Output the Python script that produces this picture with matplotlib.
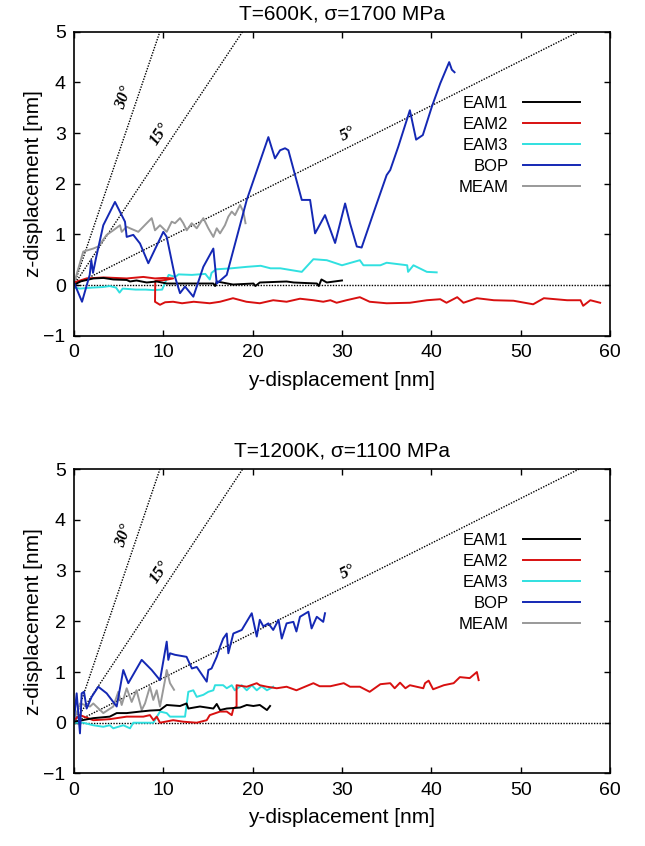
import numpy as np
import matplotlib
matplotlib.use('Agg')
import matplotlib.pyplot as plt

plt.rcParams['font.family'] = ['Liberation Sans', 'DejaVu Sans']

# ---- reference lines (angle label, slope)
ref_labels = ['30°', '15°', '5°']
ref_slopes = [0.52, 0.265, 0.0885]
ref_label_pos = [(5.6, 3.7), (9.6, 2.98), (30.6, 2.98)]

legend_names = ['EAM1', 'EAM2', 'EAM3', 'BOP', 'MEAM']
colors = ['#000000', '#d81010', '#30e0e0', '#1428b4', '#999999']

# ---- T=600K, sigma=1700 MPa
top_eam1_y = [0, 0.7, 2.16, 3.3, 4.4, 5.9, 6.27, 7.0, 8.14, 9.26, 10.38, 11.1, 13.4, 15.6, 15.8, 15.98,
              17.8, 20.1, 20.3, 20.8, 23.8, 24.6, 27.2, 27.4, 27.7, 28.3, 30.0]
top_eam1_z = [0, 0.07, 0.13, 0.14, 0.11, 0.1, 0.07, 0.09, 0.05, 0.07, 0.03, 0.03, 0.03, 0.03, -0.02, 0.07,
              0.01, 0.03, -0.02, 0.05, 0.07, 0.05, 0.03, -0.02, 0.11, 0.05, 0.09]

top_eam2_y = [0, 1.4, 3.3, 5.9, 7.76, 9.07, 10.0, 11.1, 10.2, 9.1, 9.07, 9.63, 10.2, 11.1, 12.1, 13.4,
              15.2, 16.35, 17.8, 19.3, 20.8, 22.3, 23.8, 25.3, 26.8, 27.9, 28.7, 29.4, 30.5, 32.0, 33.1,
              35.0, 37.6, 39.5, 41.0, 41.7, 42.9, 43.6, 45.1, 47.0, 49.2, 51.4, 52.6, 55.2, 56.7, 57.0,
              57.8, 58.9]
top_eam2_z = [0.05, 0.13, 0.15, 0.13, 0.16, 0.13, 0.14, 0.13, 0.1, 0.08, -0.33, -0.39, -0.34, -0.33,
              -0.36, -0.33, -0.36, -0.33, -0.26, -0.33, -0.36, -0.3, -0.33, -0.27, -0.3, -0.33, -0.3,
              -0.35, -0.3, -0.24, -0.33, -0.36, -0.35, -0.3, -0.28, -0.35, -0.24, -0.35, -0.26, -0.3,
              -0.31, -0.38, -0.26, -0.3, -0.3, -0.41, -0.3, -0.35]

top_eam3_y = [0, 0.66, 2.1, 3.2, 4.0, 4.7, 5.1, 5.45, 6.9, 8.0, 8.95, 9.87, 10.2, 10.6, 11.35, 11.7, 13.2,
              14.7, 15.2, 15.4, 15.9, 17.6, 19.4, 20.9, 22.0, 23.1, 25.5, 26.8, 28.3, 30.0, 32.0, 32.4,
              34.3, 35.0, 37.3, 37.4, 38.0, 39.5, 40.6]
top_eam3_z = [-0.05, -0.07, -0.05, -0.04, -0.02, -0.05, -0.15, -0.07, -0.09, -0.09, -0.1, -0.09, 0.05,
              0.2, 0.16, 0.21, 0.2, 0.22, 0.11, 0.24, 0.31, 0.33, 0.36, 0.38, 0.33, 0.33, 0.26, 0.51,
              0.49, 0.39, 0.49, 0.39, 0.39, 0.44, 0.39, 0.26, 0.39, 0.26, 0.25]

top_bop_y = [0, 0.9, 1.76, 1.94, 2.13, 2.5, 3.28, 4.59, 5.71, 5.9, 6.64, 7.39, 8.32, 10.0, 10.38, 11.31,
             11.87, 12.43, 13.36, 14.48, 15.6, 15.98, 17.1, 19.34, 21.76, 22.5, 23.07, 23.63, 24.0, 25.5,
             26.43, 26.99, 28.1, 29.23, 30.35, 30.9, 31.66, 32.2, 33.5, 35.0, 35.4, 36.3, 37.6, 38.3,
             39.05, 40.06, 41.0, 42.0, 42.3, 42.6]
top_bop_z = [0.05, -0.33, 0.2, 0.49, 0.24, 0.56, 1.18, 1.64, 1.25, 0.95, 0.99, 0.82, 0.43, 1.05, 0.95,
             0.16, -0.16, -0.03, -0.23, 0.36, 0.72, 0.03, 0.2, 1.68, 2.92, 2.5, 2.66, 2.7, 2.66, 1.68,
             1.68, 1.02, 1.38, 0.83, 1.61, 1.22, 0.76, 0.74, 1.41, 2.17, 2.27, 2.73, 3.45, 2.87, 2.96,
             3.52, 3.98, 4.4, 4.25, 4.2]

top_meam_y = [0, 1.04, 1.6, 2.16, 2.72, 3.66, 4.4, 5.15, 5.34, 5.9, 6.27, 7.2, 8.14, 8.7, 9.07, 9.63,
              10.38, 10.94, 11.31, 11.87, 12.24, 12.62, 13.18, 13.74, 14.48, 15.04, 15.6, 15.98, 16.35,
              16.9, 17.28, 17.66, 18.03, 18.59, 18.96, 19.2]
top_meam_z = [0.03, 0.66, 0.69, 0.72, 0.76, 0.99, 1.08, 1.18, 1.05, 1.15, 1.12, 1.05, 1.22, 1.32, 1.08,
              1.18, 1.05, 1.25, 1.22, 1.32, 1.22, 1.08, 1.22, 1.12, 1.32, 1.12, 0.95, 1.12, 1.02, 1.18,
              1.35, 1.45, 1.38, 1.58, 1.45, 1.22]

# ---- T=1200K, sigma=1100 MPa
bot_eam1_y = [0, 2.16, 4.0, 4.78, 5.9, 7.4, 8.5, 9.63, 10.38, 11.87, 12.6, 12.8, 14.1, 15.6, 15.98,
              16.35, 17.1, 18.6, 19.34, 20.08, 20.8, 21.6, 21.95]
bot_eam1_z = [0.02, 0.09, 0.12, 0.19, 0.19, 0.22, 0.24, 0.25, 0.35, 0.33, 0.38, 0.28, 0.32, 0.28, 0.37,
              0.25, 0.28, 0.3, 0.35, 0.33, 0.35, 0.25, 0.33]

bot_eam2_y = [0, 0.67, 2.16, 4.0, 5.9, 7.76, 8.5, 8.9, 9.26, 9.63, 11.1, 12.24, 13.74, 14.86, 15.2,
              16.35, 17.1, 17.66, 17.84, 18.2, 18.2, 19.34, 20.46, 20.8, 21.6, 22.7, 23.8, 24.9, 26.8,
              27.5, 28.7, 30.2, 30.9, 32.0, 33.1, 34.3, 35.4, 35.9, 36.5, 37.1, 37.6, 39.1, 39.3, 39.7,
              40.2, 41.4, 42.5, 43.2, 44.3, 45.1, 45.3]
bot_eam2_z = [0.05, 0.15, 0.05, 0.07, 0.12, 0.12, 0.15, 0.05, 0.12, 0.0, 0.05, 0.02, 0.0, 0.05, 0.15,
              0.22, 0.22, 0.15, 0.28, 0.32, 0.74, 0.71, 0.78, 0.74, 0.71, 0.68, 0.71, 0.64, 0.78, 0.72,
              0.72, 0.78, 0.71, 0.71, 0.61, 0.76, 0.78, 0.68, 0.79, 0.68, 0.74, 0.68, 0.78, 0.83, 0.66,
              0.74, 0.78, 0.9, 0.88, 1.0, 0.84]

bot_eam3_y = [0, 1.04, 2.16, 3.28, 4.0, 4.4, 5.52, 6.27, 6.64, 7.76, 8.88, 9.63, 10.38, 10.75, 12.43,
              12.8, 13.36, 13.74, 14.48, 15.04, 15.6, 15.79, 16.7, 17.1, 17.66, 18.0, 18.78, 19.34,
              19.9, 20.46, 21.0, 21.6, 22.3]
bot_eam3_z = [0.0, 0.0, -0.05, -0.08, -0.05, -0.11, -0.05, -0.11, 0.0, 0.0, 0.0, 0.22, 0.19, 0.12,
              0.12, 0.61, 0.64, 0.51, 0.55, 0.61, 0.64, 0.74, 0.74, 0.68, 0.74, 0.64, 0.74, 0.64, 0.74,
              0.64, 0.72, 0.64, 0.71]

bot_bop_y = [0, 0.3, 0.67, 0.86, 1.12, 1.42, 1.98, 2.72, 3.66, 4.78, 5.52, 6.08, 7.58, 8.7, 9.63,
             10.38, 10.56, 10.75, 11.3, 12.6, 13.2, 13.74, 14.86, 15.04, 15.4, 15.98, 16.35, 16.7, 17.1,
             17.28, 17.84, 18.78, 19.9, 20.46, 20.8, 21.2, 21.76, 22.3, 22.9, 23.26, 23.8, 24.56, 24.9,
             25.3, 26.24, 26.6, 27.18, 27.9, 28.1]
bot_bop_z = [0.05, 0.58, -0.21, 0.58, 0.61, 0.28, 0.51, 0.71, 0.58, 0.32, 1.04, 0.78, 1.24, 1.04, 0.84,
             1.6, 1.24, 1.37, 1.34, 1.3, 1.07, 1.1, 0.81, 1.04, 1.07, 1.3, 1.5, 1.66, 1.76, 1.37, 1.76,
             1.83, 2.16, 1.7, 2.03, 1.9, 1.96, 1.83, 2.03, 1.66, 1.96, 1.99, 1.8, 2.09, 2.19, 1.86, 2.09,
             1.99, 2.16]

bot_meam_y = [0, 0.67, 1.8, 2.16, 3.28, 4.4, 4.96, 5.34, 5.9, 6.46, 7.0, 7.58, 7.95, 8.5, 8.88, 9.26,
              9.63, 10.19, 10.38, 10.75, 11.2]
bot_meam_z = [0.05, 0.38, 0.32, 0.38, 0.19, 0.32, 0.61, 0.35, 0.68, 0.41, 0.64, 0.25, 0.38, 0.71, 0.45,
              0.64, 0.32, 0.84, 1.04, 0.78, 0.65]

panels = [
    ('T=600K, σ=1700 MPa',
     [(top_eam1_y, top_eam1_z), (top_eam2_y, top_eam2_z), (top_eam3_y, top_eam3_z),
      (top_bop_y, top_bop_z), (top_meam_y, top_meam_z)]),
    ('T=1200K, σ=1100 MPa',
     [(bot_eam1_y, bot_eam1_z), (bot_eam2_y, bot_eam2_z), (bot_eam3_y, bot_eam3_z),
      (bot_bop_y, bot_bop_z), (bot_meam_y, bot_meam_z)]),
]

fig = plt.figure(figsize=(6.45, 8.46), dpi=100)
ax_rects = [[0.1147, 0.6032, 0.831, 0.3593], [0.1147, 0.0858, 0.831, 0.3595]]

xs = np.array([0, 60])
for rect, (title, series) in zip(ax_rects, panels):
    ax = fig.add_axes(rect)
    ax.set_xlim(0, 60)
    ax.set_ylim(-1, 5)

    # dotted guide lines
    ax.plot(xs, [0, 0], color='black', lw=1.0, ls=(0, (1, 1)))
    for s in ref_slopes:
        ax.plot(xs, s * xs, color='black', lw=1.0, ls=(0, (1, 1)))

    # draw order so blue sits on top like the original
    order = [4, 2, 1, 0, 3]
    handles = {}
    for i in order:
        y, z = series[i]
        h, = ax.plot(y, z, color=colors[i], lw=1.4, label=legend_names[i])
        handles[i] = h

    fig.canvas.draw()
    for lab, s, (tx, tz) in zip(ref_labels, ref_slopes, ref_label_pos):
        ang = ax.transData.transform_angles(np.array([np.degrees(np.arctan(s))]),
                                            np.array([[tx, tz]]))[0]
        ax.text(tx, tz, lab, rotation=ang, rotation_mode='anchor', ha='center', va='center',
                family='Liberation Serif', style='italic', fontweight='bold', fontsize=12)

    ax.legend([handles[i] for i in range(5)], legend_names, loc='upper right',
              bbox_to_anchor=(0.944, 0.79), frameon=False, markerfirst=False,
              handlelength=3.4, handletextpad=0.9, labelspacing=0.36, borderaxespad=0,
              borderpad=0, fontsize=12)

    ax.set_xticks(range(0, 61, 10))
    ax.set_yticks(range(-1, 6))
    ax.tick_params(direction='in', top=True, right=True, length=4, width=1.0,
                   labelsize=14, pad=6)
    for sp in ax.spines.values():
        sp.set_linewidth(1.2)
    ax.set_xlabel('y-displacement [nm]', fontsize=15, labelpad=7)
    ax.set_ylabel('z-displacement [nm]', fontsize=15, labelpad=0)
    ax.set_title(title, fontsize=15, pad=9)

fig.savefig('out.png', dpi=100)
